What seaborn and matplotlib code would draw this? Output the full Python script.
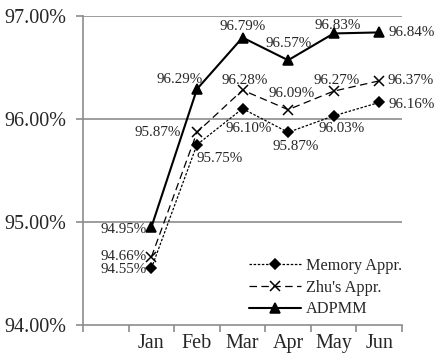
import matplotlib
matplotlib.use("Agg")
import matplotlib.pyplot as plt
import seaborn as sns
import pandas as pd
import numpy as np

months = ["Jan", "Feb", "Mar", "Apr", "May", "Jun"]
memory = [94.55, 95.75, 96.10, 95.87, 96.03, 96.16]
zhu = [94.66, 95.87, 96.28, 96.09, 96.27, 96.37]
adpmm = [94.95, 96.29, 96.79, 96.57, 96.83, 96.84]
series_names = ["Memory Appr.", "Zhu's Appr.", "ADPMM"]
yticks = [94.0, 95.0, 96.0, 97.0]

sns.set_style("white")
plt.rcParams['font.family'] = ['Liberation Serif', 'DejaVu Serif']

fig = plt.figure(figsize=(4.37, 3.54), dpi=100)
ax = fig.add_axes([0.19, 0.082, 0.73, 0.873])

pos = np.arange(len(months)) + 1.5
df = pd.DataFrame({"x": np.tile(pos, 3),
                   "y": memory + zhu + adpmm,
                   "s": np.repeat(series_names, len(months))})

styles = {
    "Memory Appr.": dict(dashes=(2.0, 1.3), marker="D", ms=5, lw=0.9),
    "Zhu's Appr.": dict(dashes=(6, 3.5), marker="x", ms=7, lw=0.9),
    "ADPMM": dict(dashes=None, marker="^", ms=7, lw=1.5),
}
for name in series_names:
    st = styles[name]
    sub = df[df.s == name]
    sns.lineplot(data=sub, x="x", y="y", ax=ax, color="black",
                 marker=st["marker"], markersize=st["ms"], linewidth=st["lw"],
                 label=name, markeredgecolor="black", markeredgewidth=1.1)
    line = ax.get_lines()[-1]
    if st["dashes"] is not None:
        line.set_dashes(st["dashes"])

ax.set_xlim(0, 7)
ax.set_ylim(94, 97)
ax.set_yticks(yticks)
ax.set_yticklabels([f"{v:.2f}%" for v in yticks], fontsize=14.5)
ax.set_xticks(np.arange(0, 8))
ax.set_xticklabels([])
ax.set_xticks(pos, minor=True)
ax.set_xticklabels(months, minor=True, fontsize=14.5)
ax.tick_params(axis="x", which="minor", bottom=True, labelbottom=True, length=0, pad=6.5)
ax.tick_params(axis="x", which="major", bottom=True, length=5, width=1.2,
               color="#8c8c8c", direction="out")
ax.tick_params(axis="y", left=True, length=5, width=1.2, color="#8c8c8c",
               direction="out", pad=7)
ax.set_xlabel("")
ax.set_ylabel("")
for sp in ["top", "right"]:
    ax.spines[sp].set_visible(False)
for sp in ["left", "bottom"]:
    ax.spines[sp].set_color("#8c8c8c")
    ax.spines[sp].set_linewidth(1.2)
for v in yticks[1:]:
    ax.axhline(v, color="#8c8c8c", lw=1.2, zorder=0)

fs = 10.8
def lab(x, y, dx, dy, ha):
    ax.annotate(f"{y:.2f}%", (x, y), xytext=(dx, -dy), textcoords="offset pixels",
                ha=ha, va="center", fontsize=fs)

# offsets in pixels (dy positive = downward)
adp_off = [(-5, 2, "right"), (6, -10, "right"), (0, -11, "center"),
           (1, -17, "center"), (4, -8, "center"), (9, 0, "left")]
zhu_off = [(-5, 0, "right"), (-16, 0, "right"), (2, -10, "center"),
           (4, -16, "center"), (3, -11, "center"), (8, 0, "left")]
mem_off = [(-5, 1, "right"), (0, 14, "left"), (6, 20, "center"),
           (8, 14, "center"), (8, 13, "center"), (9, 2, "left")]
for vals, offs in [(adpmm, adp_off), (zhu, zhu_off), (memory, mem_off)]:
    for x, y, (dx, dy, ha) in zip(pos, vals, offs):
        lab(x, y, dx, dy, ha)

ax.legend(loc="lower right", bbox_to_anchor=(1.0, 0.025), frameon=False,
          fontsize=11.7, handlelength=3.2, handletextpad=0.3, labelspacing=0.35,
          borderaxespad=0.0, borderpad=0.0)

fig.savefig("out.png", dpi=100)
